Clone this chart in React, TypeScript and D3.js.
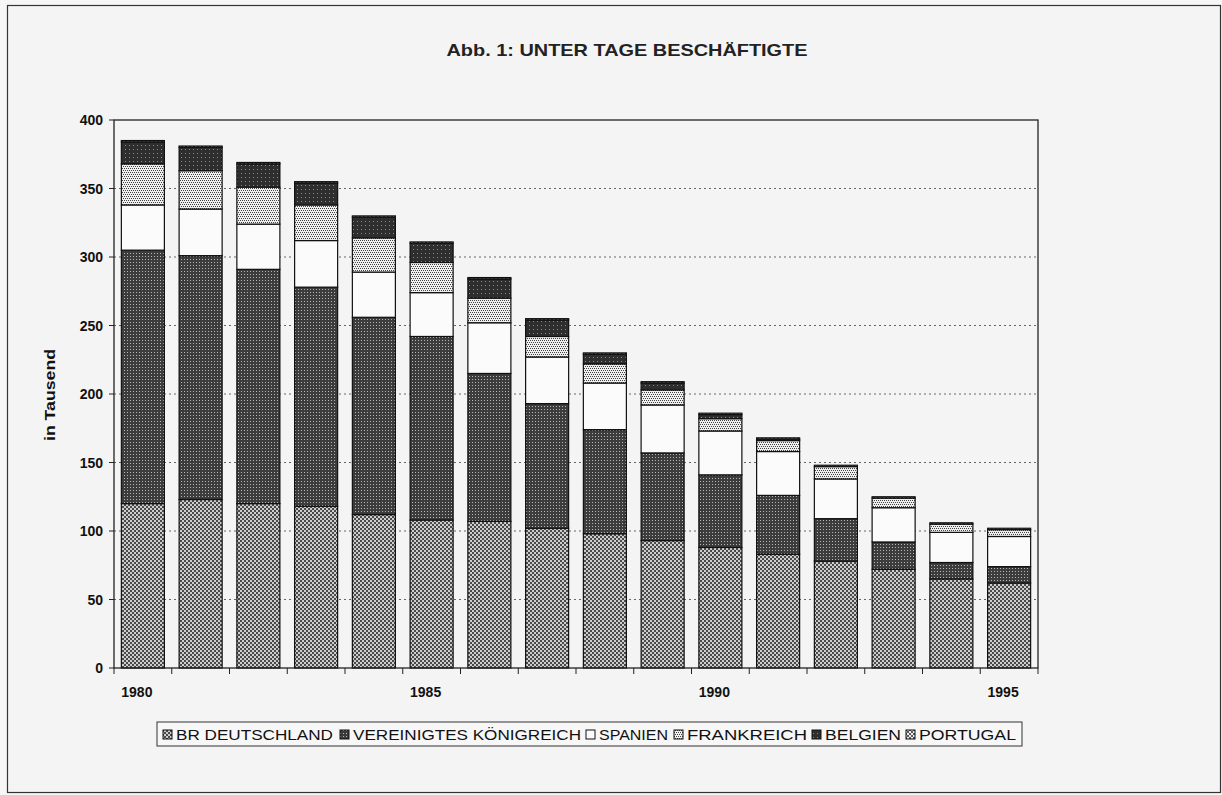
import React from "react";
import * as d3 from "d3";

// Underground workers in the coal mining of the EC countries, in thousands
const years = [1980, 1981, 1982, 1983, 1984, 1985, 1986, 1987, 1988, 1989, 1990, 1991, 1992, 1993, 1994, 1995];
const brDeutschland = [120, 123, 120, 118, 112, 108, 107, 102, 98, 93, 88, 83, 78, 72, 65, 62];
const vereinigtesKoenigreich = [185, 178, 171, 160, 144, 134, 108, 91, 76, 64, 53, 43, 31, 20, 12, 12];
const spanien = [33, 34, 33, 34, 33, 32, 37, 34, 34, 35, 32, 32, 29, 25, 22, 22];
const frankreich = [30, 28, 27, 26, 25, 22, 18, 15, 14, 11, 9, 8, 9, 7, 6, 5];
const belgien = [16, 17, 17, 16, 15, 14, 14, 12, 7, 5, 3, 1, 0, 0, 0, 0];
const portugal = [1, 1, 1, 1, 1, 1, 1, 1, 1, 1, 1, 1, 1, 1, 1, 1];

const seriesKeys = ["de", "uk", "es", "fr", "be", "pt"];
const seriesLabels = ["BR DEUTSCHLAND", "VEREINIGTES KÖNIGREICH", "SPANIEN", "FRANKREICH", "BELGIEN", "PORTUGAL"];
const yTicks = [0, 50, 100, 150, 200, 250, 300, 350, 400];
const labelledYears = [1980, 1985, 1990, 1995];

const titleText = "Abb. 1: UNTER TAGE BESCHÄFTIGTE";
const yAxisTitle = "in Tausend";

const W = 1222;
const H = 795;
const plot = { left: 114, right: 1038, top: 120, bottom: 668 };
const FONT = "'Liberation Sans', Arial, sans-serif";

// legend geometry: icon x and label width per entry
const legendBox = { x: 157, y: 722, w: 865, h: 24 };
const legendIconX = [163, 340, 586, 674, 812, 906];
const legendTextW = [157, 228, 69, 120, 76, 97];

function Patterns() {
  return (
    <defs>
      <pattern id="pat-de" width="4" height="4" patternUnits="userSpaceOnUse">
        <rect width="4" height="4" fill="#cdcdcd" />
        <rect x="0" y="0" width="2" height="2" fill="#4a4a4a" />
        <rect x="2" y="2" width="2" height="2" fill="#4a4a4a" />
      </pattern>
      <pattern id="pat-uk" width="3" height="3" patternUnits="userSpaceOnUse">
        <rect width="3" height="3" fill="#3c3c3c" />
        <rect x="1" y="1" width="1" height="1" fill="#b8b8b8" />
      </pattern>
      <pattern id="pat-es" width="4" height="4" patternUnits="userSpaceOnUse">
        <rect width="4" height="4" fill="#fbfbfb" />
      </pattern>
      <pattern id="pat-fr" width="4" height="4" patternUnits="userSpaceOnUse">
        <rect width="4" height="4" fill="#efefef" />
        <rect x="0" y="0" width="1" height="1" fill="#444" />
        <rect x="2" y="0" width="1" height="1" fill="#444" />
        <rect x="1" y="2" width="1" height="1" fill="#444" />
        <rect x="3" y="2" width="1" height="1" fill="#444" />
      </pattern>
      <pattern id="pat-be" width="4" height="4" patternUnits="userSpaceOnUse">
        <rect width="4" height="4" fill="#2e2e2e" />
        <rect x="1" y="1" width="1" height="1" fill="#8a8a8a" />
      </pattern>
      <pattern id="pat-pt" width="4" height="4" patternUnits="userSpaceOnUse">
        <rect width="4" height="4" fill="#eeeeee" />
        <path d="M0,0 L4,4 M4,0 L0,4" stroke="#333" strokeWidth="0.8" />
      </pattern>
    </defs>
  );
}

export default function App() {
  const rows = years.map((year, i) => ({
    year,
    de: brDeutschland[i],
    uk: vereinigtesKoenigreich[i],
    es: spanien[i],
    fr: frankreich[i],
    be: belgien[i],
    pt: portugal[i],
  }));

  const stacked = d3.stack<any>().keys(seriesKeys)(rows);

  const x = d3
    .scaleBand<number>()
    .domain(years)
    .range([plot.left, plot.right])
    .paddingInner(0.255)
    .paddingOuter(0.1275);

  const y = d3.scaleLinear().domain([0, 400]).range([plot.bottom, plot.top]);

  const step = x.step();
  const catTicks = d3.range(years.length + 1).map((i) => plot.left + i * step);

  return (
    <svg
      width={W}
      height={H}
      style={{ position: "absolute", left: 0, top: 0, display: "block" }}
      fontFamily={FONT}
    >
      <Patterns />
      <rect x={0} y={0} width={W} height={H} fill="#f6f6f6" />
      <rect x={7.5} y={5.5} width={1213} height={787} fill="#f4f4f4" stroke="#333" strokeWidth={1.2} />

      <text
        x={627}
        y={56}
        textAnchor="middle"
        fontSize={17}
        fontWeight="bold"
        fill="#222"
        textLength={361}
        lengthAdjust="spacingAndGlyphs"
      >
        {titleText}
      </text>

      {/* gridlines */}
      {yTicks
        .filter((t) => t > 0 && t < 400)
        .map((t) => (
          <line
            key={"g" + t}
            x1={plot.left}
            x2={plot.right}
            y1={y(t)}
            y2={y(t)}
            stroke="#666"
            strokeWidth={1}
            strokeDasharray="2 3"
          />
        ))}

      {/* stacked bars */}
      {stacked.map((layer, li) => (
        <g key={layer.key}>
          {layer.map((d, i) => {
            const h = y(d[0]) - y(d[1]);
            if (h <= 0) return null;
            return (
              <rect
                key={i}
                x={x(years[i])}
                y={y(d[1])}
                width={x.bandwidth()}
                height={h}
                fill={`url(#pat-${seriesKeys[li]})`}
                stroke="#111"
                strokeWidth={1.2}
              />
            );
          })}
        </g>
      ))}

      {/* plot frame */}
      <rect
        x={plot.left}
        y={plot.top}
        width={plot.right - plot.left}
        height={plot.bottom - plot.top}
        fill="none"
        stroke="#222"
        strokeWidth={1.3}
      />

      {/* y axis ticks and labels */}
      {yTicks.map((t) => (
        <g key={"y" + t}>
          <line x1={plot.left - 5} x2={plot.left} y1={y(t)} y2={y(t)} stroke="#222" strokeWidth={1} />
          <text x={103} y={y(t) + 5} textAnchor="end" fontSize={14} fontWeight="bold" fill="#111">
            {t}
          </text>
        </g>
      ))}

      {/* x axis category ticks */}
      {catTicks.map((cx, i) => (
        <line key={"xt" + i} x1={cx} x2={cx} y1={plot.bottom} y2={plot.bottom + 6} stroke="#222" strokeWidth={1} />
      ))}
      {labelledYears.map((yr) => (
        <text
          key={"xl" + yr}
          x={(x(yr) as number) + x.bandwidth() / 2 - 6}
          y={697}
          textAnchor="middle"
          fontSize={14}
          fontWeight="bold"
          fill="#111"
        >
          {yr}
        </text>
      ))}

      <text
        transform={`translate(55,395) rotate(-90)`}
        textAnchor="middle"
        fontSize={14}
        fontWeight="bold"
        fill="#111"
        textLength={92}
        lengthAdjust="spacingAndGlyphs"
      >
        {yAxisTitle}
      </text>

      {/* legend */}
      <rect
        x={legendBox.x}
        y={legendBox.y}
        width={legendBox.w}
        height={legendBox.h}
        fill="#f7f7f7"
        stroke="#333"
        strokeWidth={1}
      />
      {seriesKeys.map((k, i) => (
        <g key={"lg" + k}>
          <rect
            x={legendIconX[i]}
            y={legendBox.y + 8}
            width={9}
            height={9}
            fill={`url(#pat-${k})`}
            stroke="#111"
            strokeWidth={1}
          />
          <text
            x={legendIconX[i] + 13}
            y={legendBox.y + 18}
            fontSize={15}
            fill="#111"
            textLength={legendTextW[i]}
            lengthAdjust="spacingAndGlyphs"
          >
            {seriesLabels[i]}
          </text>
        </g>
      ))}
    </svg>
  );
}
